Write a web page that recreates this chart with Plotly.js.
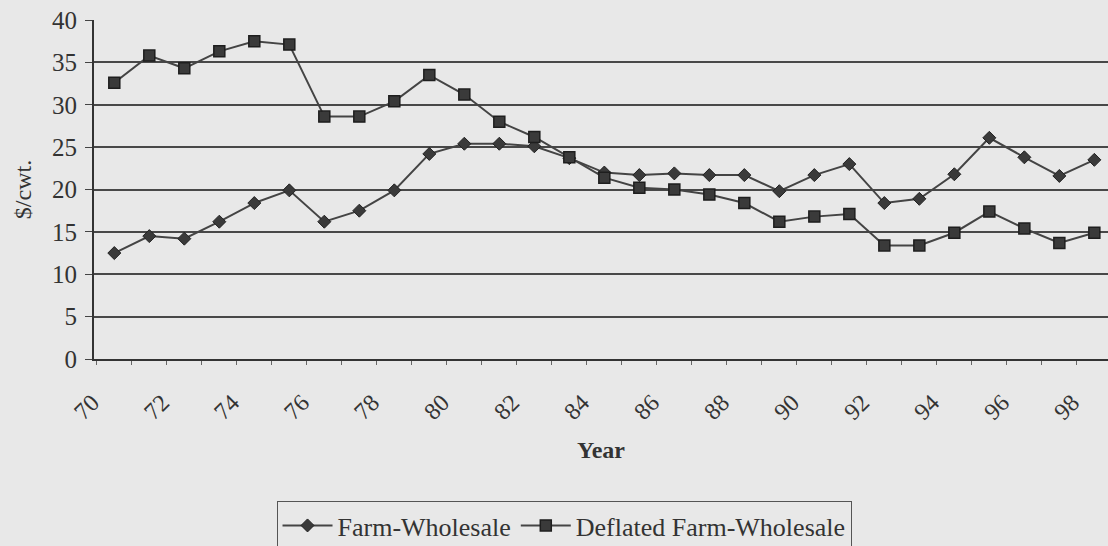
<!DOCTYPE html>
<html>
<head>
<meta charset="utf-8">
<script src="https://cdn.plot.ly/plotly-3.0.1.min.js"></script>
<style>
html,body{margin:0;padding:0;background:#e8e8e8;}
#chart{width:1108px;height:546px;}
</style>
</head>
<body>
<div id="chart"></div>
<script>
const years = [70,71,72,73,74,75,76,77,78,79,80,81,82,83,84,85,86,87,88,89,90,91,92,93,94,95,96,97,98];
const farmWholesale = [12.5,14.5,14.2,16.2,18.4,19.9,16.2,17.5,19.9,24.2,25.4,25.4,25.1,23.7,22.0,21.7,21.9,21.7,21.7,19.8,21.7,23.0,18.4,18.9,21.8,26.1,23.8,21.6,23.5];
const deflatedFarmWholesale = [32.6,35.8,34.3,36.3,37.5,37.1,28.6,28.6,30.4,33.5,31.2,28.0,26.2,23.8,21.4,20.2,20.0,19.4,18.4,16.2,16.8,17.1,13.4,13.4,14.9,17.4,15.4,13.7,14.9];
const tickYears = [70,72,74,76,78,80,82,84,86,88,90,92,94,96,98];
const tickLabels = ['70','72','74','76','78','80','82','84','86','88','90','92','94','96','98'];
const yTicks = [0,5,10,15,20,25,30,35,40];

const ink = '#333333';
const serif = '"Liberation Serif", "Times New Roman", serif';

const traces = [
  {x: years, y: farmWholesale, name: 'Farm-Wholesale', type: 'scatter', mode: 'lines+markers',
   line: {color: '#444', width: 2},
   marker: {symbol: 'diamond', size: 10, color: '#3a3a3a', line: {color: '#222', width: 1}}},
  {x: years, y: deflatedFarmWholesale, name: 'Deflated Farm-Wholesale', type: 'scatter', mode: 'lines+markers',
   line: {color: '#444', width: 2},
   marker: {symbol: 'square', size: 11, color: '#3a3a3a', line: {color: '#1e1e1e', width: 1.5}}}
];

const layout = {
  width: 1108, height: 546,
  paper_bgcolor: '#e8e8e8', plot_bgcolor: '#e8e8e8',
  margin: {l: 94, r: 0, t: 20, b: 187, autoexpand: false},
  font: {family: serif, color: ink, size: 24},
  showlegend: true,
  legend: {orientation: 'h', x: 0.18, xanchor: 'left', y: -0.419, yanchor: 'top',
           bgcolor: 'rgba(0,0,0,0)', bordercolor: '#555', borderwidth: 1,
           itemwidth: 50, font: {family: serif, size: 26, color: ink}, traceorder: 'normal'},
  xaxis: {
    range: [69.42, 98.39], tickmode: 'array', tickvals: tickYears, ticktext: tickLabels,
    tickangle: -45, ticks: '', showgrid: false, zeroline: false,
    showline: true, linecolor: '#333', linewidth: 2,
    ticklabelshift: -22, ticklabelstandoff: 18,
    tickfont: {family: serif, size: 24, color: ink},
    minor: {ticks: 'outside', ticklen: 4, tickcolor: '#666', tick0: 69.5, dtick: 1, showgrid: false},
    title: {text: '<b>Year</b>', font: {family: serif, size: 24, color: ink}, standoff: 17}
  },
  yaxis: {
    range: [0, 40], tickmode: 'array', tickvals: yTicks,
    ticks: 'outside', ticklen: 7, tickcolor: '#444',
    showgrid: true, gridcolor: '#484848', gridwidth: 2, zeroline: false,
    showline: true, linecolor: '#333', linewidth: 2,
    ticklabelstandoff: 3,
    tickfont: {family: serif, size: 25, color: ink},
    title: {text: '$/cwt.', font: {family: serif, size: 24, color: ink}, standoff: 14}
  }
};

Plotly.newPlot('chart', traces, layout, {displayModeBar: false, staticPlot: true});
</script>
</body>
</html>
